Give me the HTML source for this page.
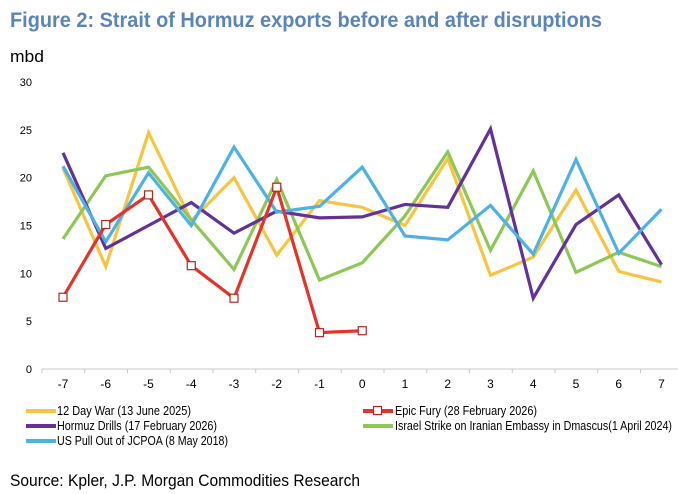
<!DOCTYPE html>
<html><head><meta charset="utf-8"><style>
html,body{margin:0;padding:0;background:#fff;}
svg{display:block;font-family:"Liberation Sans",Arial,sans-serif;}
</style></head><body>
<svg id="chart" width="678" height="494" viewBox="0 0 678 494">
<text x="10" y="27" font-size="21" font-weight="bold" fill="#5b84b8" textLength="592" lengthAdjust="spacingAndGlyphs">Figure 2: Strait of Hormuz exports before and after disruptions</text>
<text x="10" y="62" font-size="17" fill="#000" textLength="34" lengthAdjust="spacingAndGlyphs">mbd</text>
<g id="axes"></g>
<g id="series"></g>
<g id="legend" font-size="12.5" fill="#000">
<line x1="26" y1="411" x2="56" y2="411" stroke="#f7c543" stroke-width="4"/>
<text x="57" y="415" textLength="134" lengthAdjust="spacingAndGlyphs">12 Day War (13 June 2025)</text>
<line x1="26" y1="426" x2="56" y2="426" stroke="#62319a" stroke-width="4"/>
<text x="57" y="430" textLength="160" lengthAdjust="spacingAndGlyphs">Hormuz Drills (17 February 2026)</text>
<line x1="26" y1="441" x2="56" y2="441" stroke="#4eb1e6" stroke-width="4"/>
<text x="57" y="445" textLength="171" lengthAdjust="spacingAndGlyphs">US Pull Out of JCPOA (8 May 2018)</text>
<line x1="363" y1="411" x2="393" y2="411" stroke="#e5332a" stroke-width="4"/>
<rect x="373.5" y="406.5" width="8" height="8" fill="#fff" stroke="#b3261e" stroke-width="1.2"/>
<text x="395" y="415" textLength="142" lengthAdjust="spacingAndGlyphs">Epic Fury (28 February 2026)</text>
<line x1="363" y1="426" x2="393" y2="426" stroke="#8dc756" stroke-width="4"/>
<text x="395" y="430" textLength="277" lengthAdjust="spacingAndGlyphs">Israel Strike on Iranian Embassy in Dmascus(1 April 2024)</text>
</g>
<text x="10" y="486" font-size="17" fill="#000" textLength="350" lengthAdjust="spacingAndGlyphs">Source: Kpler, J.P. Morgan Commodities Research</text>
</svg>
<script>
const categories = [-7,-6,-5,-4,-3,-2,-1,0,1,2,3,4,5,6,7];
const yTicks = [0,5,10,15,20,25,30];
const twelveDayWar = [21,10.7,24.7,15.5,20,11.9,17.6,16.9,15,22,9.8,11.7,18.7,10.2,9.1];
const hormuzDrills = [22.6,12.6,15,17.4,14.2,16.5,15.8,15.9,17.2,16.9,25.1,7.4,15.1,18.2,10.9];
const israelStrike = [13.6,20.2,21.1,15.6,10.4,19.8,9.3,11.1,16,22.7,12.4,20.7,10.1,12.2,10.7];
const usPullOut = [21.2,13.3,20.5,15,23.2,16.4,17,21.1,13.9,13.5,17.1,12,21.9,12.1,16.7];
const epicFury = [7.5,15.1,18.2,10.8,7.4,19,3.8,4.0];

const NS='http://www.w3.org/2000/svg';
const x0=63, dx=42.75, yZero=369, yTop=82;
function xScale(c){return x0+(c-categories[0])*dx;}
function yScale(v){return yZero-(v/30)*(yZero-yTop);}
function mk(tag,attrs,parent){const e=document.createElementNS(NS,tag);for(const k in attrs)e.setAttribute(k,attrs[k]);parent.appendChild(e);return e;}

const axes=document.getElementById('axes');
yTicks.forEach(t=>{
  const e=mk('text',{x:32,y:yScale(t)+4,'font-size':11,'text-anchor':'end',fill:'#000'},axes);
  
  
  e.textContent=t;
});
const ax=mk('line',{x1:42,y1:yZero,x2:680,y2:yZero,stroke:'#c8c8c8','stroke-width':1},axes);


for(let i=0;i<=categories.length;i++){
  const xx=42+i*dx;
  const tk=mk('line',{x1:xx,y1:yZero,x2:xx,y2:yZero+4,stroke:'#c8c8c8'},axes);
  
  
}
categories.forEach(c=>{
  const e=mk('text',{x:xScale(c),y:388,'font-size':12,'text-anchor':'middle',fill:'#000'},axes);
  
  
  e.textContent=c;
});

const series=document.getElementById('series');
function drawLine(vals,color,name){
  const pts=vals.map((v,i)=>xScale(categories[i])+','+yScale(v)).join(' ');
  const p=mk('polyline',{points:pts,fill:'none',stroke:color,'stroke-width':3.2,'stroke-linejoin':'miter'},series);
  
  
}
drawLine(twelveDayWar,'#f7c543','line-12-day-war');
drawLine(israelStrike,'#8dc756','line-israel-strike');
drawLine(hormuzDrills,'#62319a','line-hormuz-drills');
drawLine(usPullOut,'#4eb1e6','line-us-pull-out');
drawLine(epicFury,'#e5332a','line-epic-fury');
epicFury.forEach((v,i)=>{
  const r=mk('rect',{x:xScale(categories[i])-4,y:yScale(v)-4,width:8,height:8,fill:'#fff',stroke:'#b3261e','stroke-width':1.2},series);
  
  
});
</script>
</body></html>
